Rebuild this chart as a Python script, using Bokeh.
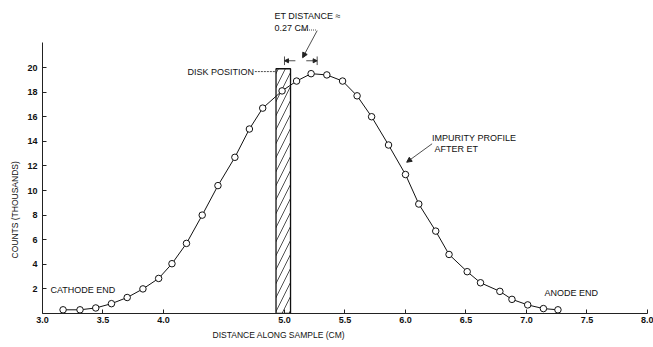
import math
from bokeh.plotting import figure
from bokeh.models import (Range1d, FixedTicker, Label, Arrow, NormalHead, ColumnDataSource, Title)
from bokeh.embed import file_html
from bokeh.resources import INLINE

# ---- data ----
x_cm = [3.17, 3.31, 3.44, 3.57, 3.70, 3.83, 3.96, 4.07, 4.19, 4.32, 4.45,
        4.59, 4.71, 4.82, 4.98, 5.10, 5.22, 5.35, 5.48, 5.60, 5.72, 5.86,
        6.00, 6.11, 6.25, 6.36, 6.51, 6.62, 6.78, 6.88, 7.01, 7.14, 7.26]
counts_k = [0.3, 0.3, 0.45, 0.8, 1.3, 2.0, 2.85, 4.05, 5.7, 8.0, 10.4,
            12.7, 15.0, 16.7, 18.1, 18.9, 19.5, 19.4, 18.9, 17.7, 16.0, 13.7,
            11.3, 8.9, 6.7, 4.8, 3.4, 2.5, 1.8, 1.15, 0.7, 0.4, 0.3]
x_ticks = [3.0, 3.5, 4.0, 5.0, 5.5, 6.0, 6.5, 7.0, 7.5, 8.0]
y_ticks = [2, 4, 6, 8, 10, 12, 14, 16, 18, 20]
disk_left, disk_right, disk_top = 4.93, 5.05, 19.9
et_start, et_end = 5.0, 5.27

FONT = "Liberation Sans"
FS = "9px"

p = figure(width=653, height=347, output_backend="svg", toolbar_location=None,
           x_range=Range1d(3.0, 8.025), y_range=Range1d(0, 25.45),
           min_border_left=42, min_border_right=3, min_border_top=0, min_border_bottom=34)
p.outline_line_color = None
p.xgrid.visible = False
p.ygrid.visible = False
p.background_fill_color = "white"
p.border_fill_color = "white"

for ax in (p.xaxis[0], p.yaxis[0]):
    ax.axis_line_color = "#222"
    ax.axis_line_width = 1
    ax.major_tick_in = 4
    ax.major_tick_out = 0
    ax.minor_tick_line_color = None
    ax.major_tick_line_color = "#222"
    ax.major_label_text_font = FONT
    ax.major_label_text_font_size = "9px"
    ax.major_label_text_color = "#111"
    ax.major_label_text_font_style = "bold"

p.xaxis.ticker = FixedTicker(ticks=x_ticks)
p.xaxis.major_label_overrides = {t: f"{t:.1f}" for t in x_ticks}
p.xaxis.bounds = (3.0, 8.0)
p.xaxis.major_label_standoff = 3
p.yaxis.ticker = FixedTicker(ticks=y_ticks)
p.yaxis.bounds = (0, 22)
p.yaxis.major_label_standoff = 5

# axis titles as off-centre titles
p.add_layout(Title(text="DISTANCE   ALONG  SAMPLE (CM)", align="left", offset=170,
                   text_font=FONT, text_font_size="8.5px", text_font_style="normal",
                   text_color="#111", standoff=5), "below")
p.add_layout(Title(text="COUNTS (THOUSANDS)", align="left", offset=55,
                   text_font=FONT, text_font_size="8.5px", text_font_style="normal",
                   text_color="#111", standoff=10), "left")

# hatched disk
p.quad(left=[disk_left], right=[disk_right], bottom=[0], top=[disk_top],
       fill_color="white", line_color="#111", line_width=1.3,
       hatch_pattern="/", hatch_color="#222", hatch_scale=14, hatch_weight=0.8)

# profile curve
src = ColumnDataSource(dict(x=x_cm, y=counts_k))
p.line("x", "y", source=src, line_color="#111", line_width=1.0)
p.scatter("x", "y", source=src, size=6.5, marker="circle", fill_color="white",
          line_color="#111", line_width=1.0)

def lab(x, y, text, **kw):
    p.add_layout(Label(x=x, y=y, text=text, text_font=FONT, text_font_size=FS,
                       text_color="#111", text_baseline="middle", **kw))

lab(3.066, 1.9, "CATHODE  END")
lab(7.149, 1.65, "ANODE  END")
lab(6.22, 14.3, "IMPURITY  PROFILE")
lab(6.24, 13.4, "AFTER  ET")
lab(4.917, 24.2, "ET  DISTANCE ≈")
lab(4.917, 23.2, "0.27  CM")
lab(4.198, 19.67, "DISK  POSITION")

# leaders and arrows
p.segment(x0=[4.755], y0=[19.67], x1=[disk_left], y1=[19.67], line_color="#222",
          line_width=0.8, line_dash="2 1")
p.segment(x0=[5.12], y0=[23.05], x1=[5.26], y1=[23.05], line_color="#222",
          line_width=0.8, line_dash="1 1")
p.add_layout(Arrow(x_start=5.27, y_start=23.0, x_end=5.15, y_end=20.8,
                   line_color="#222", line_width=0.8,
                   end=NormalHead(size=5, fill_color="#222", line_color="#222")))
p.add_layout(Arrow(x_start=6.22, y_start=13.8, x_end=6.01, y_end=12.3,
                   line_color="#222", line_width=0.8,
                   end=NormalHead(size=5, fill_color="#222", line_color="#222")))
# dimension marks for ET distance
p.segment(x0=[et_start, et_end], y0=[20.2, 20.2], x1=[et_start, et_end], y1=[20.9, 20.9],
          line_color="#222", line_width=0.8)
p.add_layout(Arrow(x_start=5.09, y_start=20.55, x_end=et_start, y_end=20.55,
                   line_color="#222", line_width=0.8,
                   end=NormalHead(size=4, fill_color="#222", line_color="#222")))
p.add_layout(Arrow(x_start=5.18, y_start=20.55, x_end=et_end, y_end=20.55,
                   line_color="#222", line_width=0.8,
                   end=NormalHead(size=4, fill_color="#222", line_color="#222")))

open("out.html", "w").write(file_html(p, INLINE))
